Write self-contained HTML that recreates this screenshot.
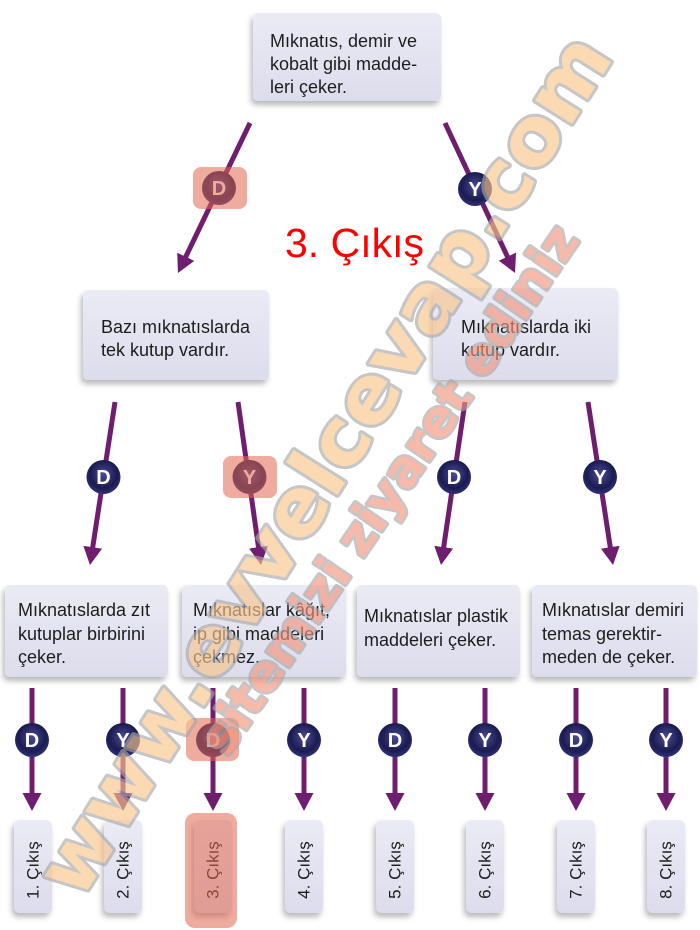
<!DOCTYPE html>
<html>
<head>
<meta charset="utf-8">
<style>
html,body{margin:0;padding:0;background:#fff;}
svg{display:block;}
.t{font-family:"Liberation Sans",sans-serif;font-size:18px;fill:#1d1d1d;}
.e{font-family:"Liberation Sans",sans-serif;font-size:17px;fill:#1d1d1d;}
.c{font-family:"Liberation Sans",sans-serif;font-size:20px;font-weight:bold;fill:#fff;}
</style>
</head>
<body>
<svg width="700" height="930" viewBox="0 0 700 930" xmlns="http://www.w3.org/2000/svg">
<defs>
  <linearGradient id="bx" x1="0" y1="0" x2="0" y2="1">
    <stop offset="0" stop-color="#ebebf5"/>
    <stop offset="1" stop-color="#dcdcec"/>
  </linearGradient>
  <radialGradient id="cg" cx="0.5" cy="0.42" r="0.58">
    <stop offset="0" stop-color="#4a4a94"/>
    <stop offset="0.7" stop-color="#1b1b50"/>
    <stop offset="1" stop-color="#30307c"/>
  </radialGradient>
  <filter id="sh" x="-20%" y="-20%" width="140%" height="150%">
    <feDropShadow dx="-2" dy="4" stdDeviation="3" flood-color="#000" flood-opacity="0.28"/>
  </filter>
  <marker id="ah" viewBox="0 0 18 19" refX="8" refY="9.5" markerWidth="18" markerHeight="19" markerUnits="userSpaceOnUse" orient="auto">
    <path d="M0,0 L18,9.5 L0,19 Z" fill="#6f1d6f"/>
  </marker>
</defs>

<!-- Top box -->
<rect x="253" y="13" width="188" height="88" rx="5" fill="url(#bx)" filter="url(#sh)"/>
<text class="t" x="270" y="47">Mıknatıs, demir ve</text>
<text class="t" x="270" y="70">kobalt gibi madde-</text>
<text class="t" x="270" y="93">leri çeker.</text>

<!-- Top arrows -->
<g stroke="#6f1d6f" stroke-width="5" fill="none">
  <line x1="250" y1="123" x2="182.3" y2="264" marker-end="url(#ah)"/>
  <line x1="445" y1="123" x2="510.8" y2="263.9" marker-end="url(#ah)"/>
</g>
<circle cx="219" cy="188" r="17" fill="url(#cg)"/>
<text class="c" x="219" y="195" text-anchor="middle">D</text>
<circle cx="475" cy="189" r="17" fill="url(#cg)"/>
<text class="c" x="475" y="196" text-anchor="middle">Y</text>
<rect x="193" y="167" width="54" height="42" rx="8" fill="#e2664f" fill-opacity="0.55"/>

<text x="285" y="257" font-family="Liberation Sans, sans-serif" font-size="41" fill="#ff0000">3. Çıkış</text>

<!-- Level 2 boxes -->
<rect x="83" y="290" width="186" height="90" rx="5" fill="url(#bx)" filter="url(#sh)"/>
<text class="t" x="101" y="333">Bazı mıknatıslarda</text>
<text class="t" x="101" y="356">tek kutup vardır.</text>
<rect x="433" y="288" width="185" height="92" rx="5" fill="url(#bx)" filter="url(#sh)"/>
<text class="t" x="461" y="333">Mıknatıslarda iki</text>
<text class="t" x="461" y="356">kutup vardır.</text>

<!-- Mid arrows -->
<g stroke="#6f1d6f" stroke-width="5" fill="none">
  <line x1="115" y1="402" x2="91.5" y2="555.1" marker-end="url(#ah)"/>
  <line x1="238" y1="402" x2="259.6" y2="555.1" marker-end="url(#ah)"/>
  <line x1="465" y1="402" x2="442.5" y2="555.1" marker-end="url(#ah)"/>
  <line x1="588" y1="402" x2="611.5" y2="555.1" marker-end="url(#ah)"/>
</g>
<circle cx="103.5" cy="477" r="17" fill="url(#cg)"/>
<text class="c" x="103.5" y="484" text-anchor="middle">D</text>
<circle cx="249.5" cy="477" r="17" fill="url(#cg)"/>
<text class="c" x="249.5" y="484" text-anchor="middle">Y</text>
<circle cx="454" cy="477" r="17" fill="url(#cg)"/>
<text class="c" x="454" y="484" text-anchor="middle">D</text>
<circle cx="600" cy="477" r="17" fill="url(#cg)"/>
<text class="c" x="600" y="484" text-anchor="middle">Y</text>
<rect x="223" y="456" width="54" height="42" rx="8" fill="#e2664f" fill-opacity="0.55"/>

<!-- Level 3 boxes -->
<rect x="5" y="585" width="163" height="92" rx="5" fill="url(#bx)" filter="url(#sh)"/>
<text class="t" x="18" y="616">Mıknatıslarda zıt</text>
<text class="t" x="18" y="640">kutuplar birbirini</text>
<text class="t" x="18" y="663">çeker.</text>

<rect x="182" y="585" width="164" height="92" rx="5" fill="url(#bx)" filter="url(#sh)"/>
<text class="t" x="193" y="616">Mıknatıslar kâğıt,</text>
<text class="t" x="193" y="640">ip gibi maddeleri</text>
<text class="t" x="193" y="663">çekmez.</text>

<rect x="357" y="585" width="163" height="92" rx="5" fill="url(#bx)" filter="url(#sh)"/>
<text class="t" x="364" y="622">Mıknatıslar plastik</text>
<text class="t" x="364" y="646">maddeleri çeker.</text>

<rect x="532" y="585" width="165" height="92" rx="5" fill="url(#bx)" filter="url(#sh)"/>
<text class="t" x="542" y="616">Mıknatıslar demiri</text>
<text class="t" x="542" y="640">temas gerektir-</text>
<text class="t" x="542" y="663">meden de çeker.</text>

<!-- Bottom arrows -->
<g stroke="#6f1d6f" stroke-width="5" fill="none">
  <line x1="32" y1="688" x2="32" y2="801" marker-end="url(#ah)"/>
  <line x1="123" y1="688" x2="123" y2="801" marker-end="url(#ah)"/>
  <line x1="213" y1="688" x2="213" y2="801" marker-end="url(#ah)"/>
  <line x1="304" y1="688" x2="304" y2="801" marker-end="url(#ah)"/>
  <line x1="395" y1="688" x2="395" y2="801" marker-end="url(#ah)"/>
  <line x1="485" y1="688" x2="485" y2="801" marker-end="url(#ah)"/>
  <line x1="576" y1="688" x2="576" y2="801" marker-end="url(#ah)"/>
  <line x1="666" y1="688" x2="666" y2="801" marker-end="url(#ah)"/>
</g>
<circle cx="32" cy="740" r="17" fill="url(#cg)"/><text class="c" x="32" y="747" text-anchor="middle">D</text>
<circle cx="123" cy="740" r="17" fill="url(#cg)"/><text class="c" x="123" y="747" text-anchor="middle">Y</text>
<circle cx="213" cy="740" r="17" fill="url(#cg)"/><text class="c" x="213" y="747" text-anchor="middle">D</text>
<circle cx="304" cy="740" r="17" fill="url(#cg)"/><text class="c" x="304" y="747" text-anchor="middle">Y</text>
<circle cx="395" cy="740" r="17" fill="url(#cg)"/><text class="c" x="395" y="747" text-anchor="middle">D</text>
<circle cx="485" cy="740" r="17" fill="url(#cg)"/><text class="c" x="485" y="747" text-anchor="middle">Y</text>
<circle cx="576" cy="740" r="17" fill="url(#cg)"/><text class="c" x="576" y="747" text-anchor="middle">D</text>
<circle cx="666" cy="740" r="17" fill="url(#cg)"/><text class="c" x="666" y="747" text-anchor="middle">Y</text>
<rect x="186" y="718" width="53" height="43" rx="8" fill="#e2664f" fill-opacity="0.55"/>

<!-- Exit boxes -->
<g filter="url(#sh)" fill="url(#bx)">
  <rect x="14" y="820" width="38" height="93" rx="6"/>
  <rect x="104" y="820" width="38" height="93" rx="6"/>
  <rect x="194" y="820" width="38" height="93" rx="6"/>
  <rect x="285" y="820" width="38" height="93" rx="6"/>
  <rect x="376" y="820" width="38" height="93" rx="6"/>
  <rect x="466" y="820" width="38" height="93" rx="6"/>
  <rect x="557" y="820" width="38" height="93" rx="6"/>
  <rect x="647" y="820" width="38" height="93" rx="6"/>
</g>
<text class="e" transform="translate(33,870) rotate(-90)" text-anchor="middle" dominant-baseline="central">1. Çıkış</text>
<text class="e" transform="translate(123,870) rotate(-90)" text-anchor="middle" dominant-baseline="central">2. Çıkış</text>
<text class="e" transform="translate(213,870) rotate(-90)" text-anchor="middle" dominant-baseline="central">3. Çıkış</text>
<text class="e" transform="translate(304,870) rotate(-90)" text-anchor="middle" dominant-baseline="central">4. Çıkış</text>
<text class="e" transform="translate(395,870) rotate(-90)" text-anchor="middle" dominant-baseline="central">5. Çıkış</text>
<text class="e" transform="translate(485,870) rotate(-90)" text-anchor="middle" dominant-baseline="central">6. Çıkış</text>
<text class="e" transform="translate(576,870) rotate(-90)" text-anchor="middle" dominant-baseline="central">7. Çıkış</text>
<text class="e" transform="translate(666,870) rotate(-90)" text-anchor="middle" dominant-baseline="central">8. Çıkış</text>
<rect x="185" y="813" width="52" height="115" rx="10" fill="#e2664f" fill-opacity="0.55"/>

<!-- Watermark -->
<g opacity="0.65" font-family="DejaVu Sans, sans-serif" font-weight="bold" stroke-linejoin="round">
  <text transform="translate(80,902) rotate(-57.7)" textLength="1000" lengthAdjust="spacingAndGlyphs" font-size="80" fill="#f8c58c" stroke="#a8a8a8" stroke-width="6" paint-order="stroke">www.evvelcevap.com</text>
  <text transform="translate(227,758) rotate(-55.7)" textLength="627" lengthAdjust="spacingAndGlyphs" font-size="50" fill="#f4947c" stroke="#a8a8a8" stroke-width="5" paint-order="stroke">sitemizi ziyaret ediniz</text>
</g>
</svg>
</body>
</html>
